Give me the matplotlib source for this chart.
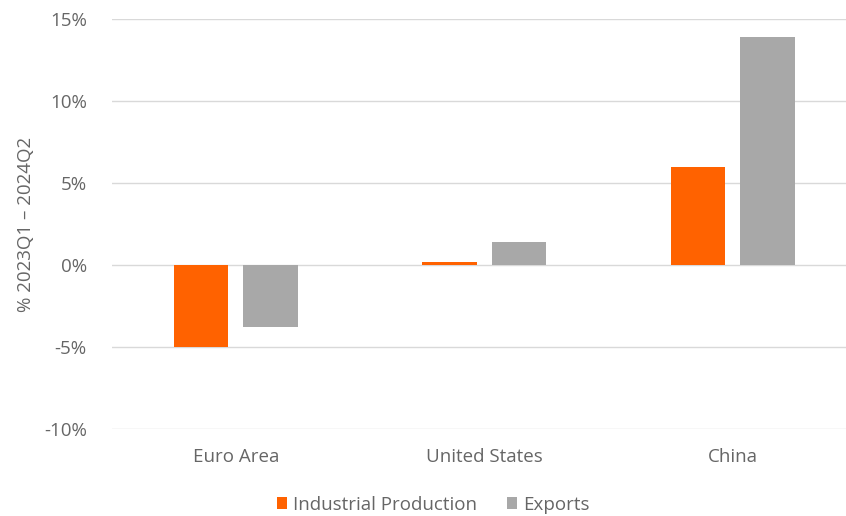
import matplotlib
matplotlib.use("Agg")
import matplotlib.pyplot as plt
import numpy as np
from matplotlib.ticker import FuncFormatter

categories = ["Euro Area", "United States", "China"]
industrial_production = [-5.0, 0.2, 6.0]
exports = [-3.8, 1.4, 13.9]
y_ticks = [-10, -5, 0, 5, 10, 15]

plt.rcParams['font.family'] = ['Open Sans', 'DejaVu Sans']
txt = '#666666'

fig = plt.figure(figsize=(8.46, 5.16), dpi=100)
ax = fig.add_axes([0.132, 0.1686, 0.881, 0.7945])

x = np.arange(len(categories))
w = 0.22
off = 0.14
ax.bar(x - off, industrial_production, w, color='#ff6200', label='Industrial Production', zorder=3)
ax.bar(x + off, exports, w, color='#a8a8a8', label='Exports', zorder=3)

ax.set_xlim(-0.5, 2.5)
ax.set_ylim(-10, 15)
ax.set_yticks(y_ticks)
ax.yaxis.set_major_formatter(FuncFormatter(lambda v, p: f"{v:.0f}%"))
ax.set_xticks(x)
ax.set_xticklabels(categories)
ax.grid(axis='y', color='#d9d9d9', linewidth=1, zorder=0)
for s in ax.spines.values():
    s.set_visible(False)
ax.tick_params(axis='both', length=0, colors=txt, labelsize=13.5)
ax.tick_params(axis='y', pad=18)
ax.tick_params(axis='x', pad=14)
ax.set_ylabel("% 2023Q1 – 2024Q2", color=txt, fontsize=13.5, labelpad=6)

leg = fig.legend(loc='lower center', bbox_to_anchor=(0.512, -0.028), ncol=2, frameon=False,
                 fontsize=13.5, handlelength=0.55, handleheight=0.55, handletextpad=0.3, columnspacing=1.6)
for t in leg.get_texts():
    t.set_color(txt)

fig.savefig("out.png", dpi=100)
